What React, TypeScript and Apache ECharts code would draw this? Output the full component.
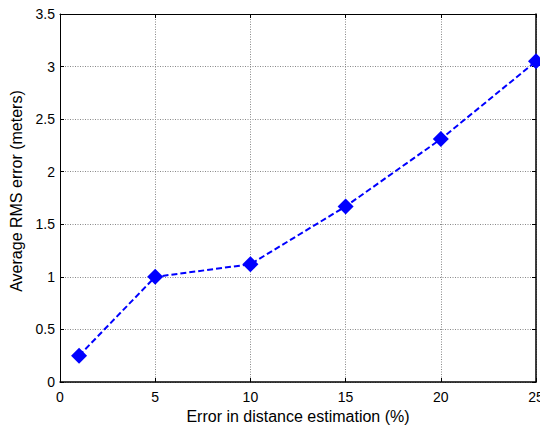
import React, { useEffect, useRef } from "react";
import * as echarts from "echarts";

const xValues = [1, 5, 10, 15, 20, 25];
const rmsError = [0.25, 1.0, 1.12, 1.67, 2.31, 3.05];
const xTitle = "Error in distance estimation (%)";
const yTitle = "Average RMS error (meters)";

const FONT = "Liberation Sans, Arial, sans-serif";

export default function App() {
  const ref = useRef<HTMLDivElement>(null);
  useEffect(() => {
    if (!ref.current) return;
    const chart = echarts.init(ref.current, undefined, { renderer: "svg" });
    const tick = { show: true, inside: true, length: 4, lineStyle: { color: "#000" } };
    chart.setOption({
      animation: false,
      backgroundColor: "#fff",
      grid: {
        left: 60,
        right: 4,
        top: 14,
        bottom: 46,
        show: true,
        backgroundColor: "#fff",
        borderWidth: 0,
        outerBoundsMode: "none",
        containLabel: false,
      },
      xAxis: [
        {
          type: "value",
          min: 0,
          max: 25,
          interval: 5,
          name: xTitle,
          nameLocation: "middle",
          nameGap: 18,
          nameTextStyle: { color: "#000", fontSize: 16, fontFamily: FONT },
          axisLine: { show: true, onZero: false, lineStyle: { color: "#000", width: 1.5 } },
          axisTick: tick,
          axisLabel: { color: "#000", fontSize: 14, fontFamily: FONT, margin: 8 },
          splitLine: { show: true, lineStyle: { color: "#888", type: [1, 1.5], width: 1 } },
        },
        {
          type: "value",
          position: "top",
          min: 0,
          max: 25,
          interval: 5,
          axisLabel: { show: false },
          axisLine: { show: true, onZero: false, lineStyle: { color: "#000", width: 1 } },
          axisTick: tick,
          splitLine: { show: false },
        },
      ],
      yAxis: [
        {
          type: "value",
          min: 0,
          max: 3.5,
          interval: 0.5,
          name: yTitle,
          nameLocation: "middle",
          nameGap: 32,
          nameTextStyle: { color: "#000", fontSize: 16, fontFamily: FONT, padding: [0, 0, 0, 14] },
          axisLine: { show: true, onZero: false, lineStyle: { color: "#000", width: 1 } },
          axisTick: tick,
          axisLabel: { color: "#000", fontSize: 14, fontFamily: FONT, margin: 5 },
          splitLine: { show: true, lineStyle: { color: "#888", type: [1, 1.5], width: 1 } },
        },
        {
          type: "value",
          position: "right",
          min: 0,
          max: 3.5,
          interval: 0.5,
          axisLabel: { show: false },
          axisLine: { show: true, onZero: false, lineStyle: { color: "#000", width: 1.5 } },
          axisTick: tick,
          splitLine: { show: false },
        },
      ],
      series: [
        {
          type: "line",
          data: xValues.map((x, i) => [x, rmsError[i]]),
          symbol: "diamond",
          symbolSize: 16,
          itemStyle: { color: "#0000ff" },
          lineStyle: { color: "#0000ff", width: 2, type: [6, 3] },
          clip: false,
          z: 5,
        },
      ],
    });
    return () => chart.dispose();
  }, []);
  return (
    <div
      ref={ref}
      style={{ position: "fixed", left: 0, top: 0, width: 540, height: 428 }}
    />
  );
}
